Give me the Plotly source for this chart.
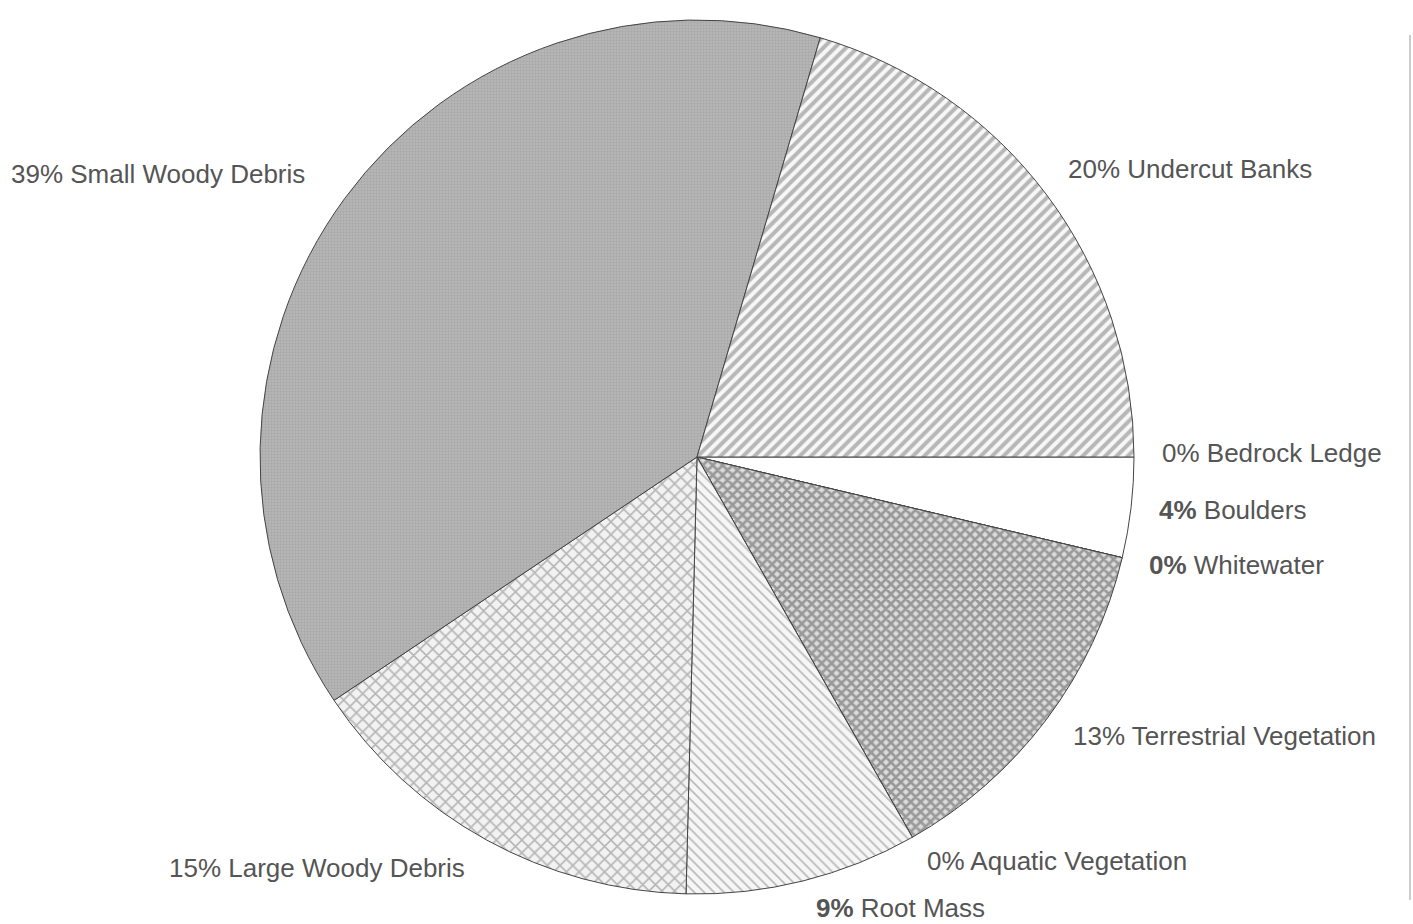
import plotly.graph_objects as go

W, H = 1413, 924

categories = ["Bedrock Ledge", "Boulders", "Whitewater", "Terrestrial Vegetation",
              "Aquatic Vegetation", "Root Mass", "Large Woody Debris",
              "Small Woody Debris", "Undercut Banks"]
# shares (labels show the rounded percentages)
values = [0, 3.7, 0, 13.1, 0, 8.6, 15.2, 38.95, 20.45]
label_text = ["0% Bedrock Ledge", "<b>4%</b> Boulders", "<b>0%</b> Whitewater",
              "13% Terrestrial Vegetation", "0% Aquatic Vegetation", "<b>9%</b> Root Mass",
              "15% Large Woody Debris", "39% Small Woody Debris", "20% Undercut Banks"]

# styles (per slice)
bg_colors = ["white", "white", "white", "#dcdcdc", "white", "#f6f6f6", "#f2f2f2", "#b8b8b8", "#f7f7f7"]
fg_colors = ["#888", "#888", "#888", "#555555", "#888", "#808080", "#777777", "#9a9a9a", "#777777"]
shapes_p = ["", "", "", "x", "", "\\", "x", ".", "/"]
sizes_p = [8, 8, 8, 7, 8, 7, 9, 3, 8]
solid_p = [0.3, 0.3, 0.3, 0.62, 0.3, 0.25, 0.32, 0.5, 0.5]

# label pixel positions (layout only)
label_px = [(1160, 453), (1157, 510), (1147, 565), (1071, 736), (925, 861),
            (814, 908), (167, 868), (9, 174), (1066, 169)]

fig = go.Figure(go.Pie(
    labels=categories,
    values=values,
    sort=False,
    direction="clockwise",
    rotation=90,
    textinfo="none",
    hoverinfo="label+percent",
    showlegend=False,
    marker=dict(
        colors=bg_colors,
        line=dict(color="#444", width=1),
        pattern=dict(shape=shapes_p, fgcolor=fg_colors, bgcolor=bg_colors,
                     size=sizes_p, solidity=solid_p, fillmode="overlay"),
    ),
    domain=dict(x=[260 / W, 1134 / W], y=[(H - 898) / H, (H - 16) / H]),
))

annotations = []
for txt, (px, py) in zip(label_text, label_px):
    annotations.append(dict(
        x=px / W, y=(H - py) / H, xref="paper", yref="paper",
        text=txt, showarrow=False, xanchor="left", yanchor="middle",
        font=dict(family="Liberation Sans, Arial, sans-serif", size=26, color="#555"),
    ))

fig.update_layout(
    width=W, height=H,
    margin=dict(l=0, r=0, t=0, b=0),
    paper_bgcolor="white", plot_bgcolor="white",
    annotations=annotations,
    shapes=[dict(type="line", xref="paper", yref="paper",
                 x0=1410 / W, x1=1410 / W, y0=(H - 900) / H, y1=(H - 35) / H,
                 line=dict(color="#999", width=1))],
)

fig.write_html("out.html", config={"displayModeBar": False},
               post_script="document.body.style.margin='0px';")
